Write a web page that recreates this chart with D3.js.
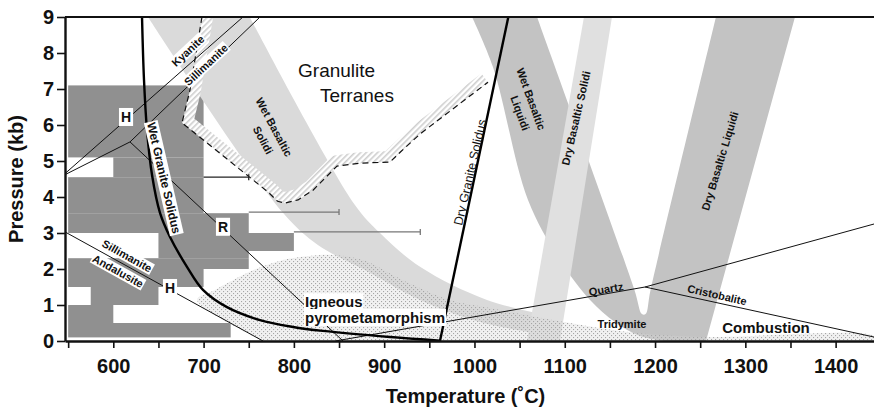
<!DOCTYPE html>
<html>
<head>
<meta charset="utf-8">
<title>P-T diagram</title>
<script src="https://cdn.jsdelivr.net/npm/d3@7/dist/d3.min.js"></script>
<style>
  body { margin: 0; background: #fff; }
  #chart svg { display: block; font-family: 'Liberation Sans', Arial, Helvetica, sans-serif; }
</style>
</head>
<body>
<div id="chart"></div>
<script>
// ticks
var tempTicks = [550, 600, 650, 700, 750, 800, 850, 900, 950, 1000, 1050, 1100, 1150, 1200, 1250, 1300, 1350, 1400];
var tempTickLabels = [600, 700, 800, 900, 1000, 1100, 1200, 1300, 1400];
var pressureTicks = [0, 1, 2, 3, 4, 5, 6, 7, 8, 9];

// dark blocks: [P low, P high, T from, T to]
var blockRows = [
  [5.1, 7.1, 550, 700],
  [4.55, 5.1, 600, 700],
  [3.55, 4.55, 550, 700],
  [3.0, 3.55, 550, 750],
  [2.5, 3.0, 650, 800],
  [2.3, 2.5, 650, 750],
  [2.0, 2.3, 550, 750],
  [1.5, 2.0, 550, 700],
  [1.0, 1.5, 575, 650],
  [0.5, 1.0, 550, 600],
  [0.1, 0.5, 550, 730]
];
// error bars: [P, T from, T to]
var blockErrorBars = [
  [4.55, 700, 750],
  [3.58, 750, 850],
  [3.03, 800, 940]
];

// curves, [T (C), P (kb)]
var wetGraniteSolidus = [[631.8, 9], [634.0, 7.25], [637.3, 5.86], [642.9, 4.61], [651.7, 3.56], [662.8, 2.89],
  [681.6, 2.06], [699.3, 1.42], [725.9, 0.94], [762.5, 0.58], [799.0, 0.39], [832.2, 0.28], [906.5, 0.11], [961.8, 0.01]];
var dryGraniteSolidus = [[961.8, 0], [1037.5, 9]];

var kyaniteSillimaniteH = [[546.5, 4.65], [743.6, 9]];
var andalusiteSillimaniteH = [[546.5, 3.03], [765.8, 0]];
var kyaniteAndalusiteR = [[546.5, 4.62], [618.5, 5.53]];
var kyaniteSillimaniteR = [[618.5, 5.53], [762.5, 9]];
var andalusiteSillimaniteR = [[618.5, 5.53], [854.4, 0]];

var quartzLine = [[846, 0], [1188.9, 1.5], [1442.5, 3.25]];
var cristobaliteLine = [[1188.9, 1.5], [1442.5, 0.11]];

var wetSolidiUpper = [[751.1, 9], [867, 3.8], [895.4, 3.0], [939.7, 2.06], [1013.9, 1.14], [1094.7, 0.64]];
var wetSolidiLower = [[638.4, 9], [787.9, 3.56], [826.6, 2.67], [878.7, 1.97], [939.7, 1.14], [1006.2, 0.53], [1094.7, 0.11]];

var wetLiquidiLeft = [[997.3, 9], [1020.5, 7.61], [1059.3, 3.92], [1094.7, 2.25], [1128, 1.14], [1155.6, 0.53], [1183.3, 0.14], [1211, 0]];
var dryLiquidiRight = [[1256.4, 0], [1355, 9]];
var liquidiNotch = [[1267.5, 9], [1195, 1.42], [1189.5, 0.75], [1185.5, 0.75], [1177.2, 1.42], [1069.3, 9]];

var drySolidi = [[1121.3, 9], [1152.3, 9], [1094.7, 0], [1058.2, 0]];

var pyrometamorphism = [[765.8, 0], [692.7, 1.14], [712.6, 1.42], [748.1, 1.89], [779.1, 2.19], [806.8, 2.33], [843.3, 2.39],
  [876.5, 2.25], [920.8, 1.69], [972.9, 1.14], [1017.2, 0.92], [1105.8, 0.5], [1180, 0.22], [1253.1, 0.11], [1442.5, 0.14], [1442.5, 0]];

var granuliteBoundary = [[698.2, 9], [684.9, 6.97], [676.1, 6.06], [771.3, 4.14], [782, 3.88], [790, 3.83], [804.6, 3.92],
  [821.2, 4.19], [847.8, 4.86], [873.2, 4.94], [906.4, 4.97], [918, 5.25], [939.7, 5.75], [1015, 7.19]];

// annotations at [T, P]
var labels = [
  {text: 'Kyanite', t: 682.7, p: 8.06, angle: -43, kind: 'small', box: true},
  {text: 'Sillimanite', t: 702.7, p: 7.67, angle: -43, kind: 'small', box: true},
  {text: 'H', t: 614.1, p: 6.22, kind: 'point', box: true},
  {text: 'Wet Granite Solidus', t: 656.1, p: 4.53, angle: 77, kind: 'solidus', box: true},
  {text: 'R', t: 721.5, p: 3.17, kind: 'point', box: true},
  {text: 'Sillimanite', t: 615.2, p: 2.36, angle: 29, kind: 'small', box: true},
  {text: 'Andalusite', t: 605.2, p: 1.94, angle: 29, kind: 'small', box: true},
  {text: 'H', t: 662.8, p: 1.47, kind: 'point', box: true},
  {text: 'Granulite', t: 804.6, p: 7.33, kind: 'region', anchor: 'start'},
  {text: 'Terranes', t: 828.9, p: 6.64, kind: 'region', anchor: 'start'},
  {text: 'Wet Basaltic', t: 778, p: 5.94, angle: 62, kind: 'small'},
  {text: 'Solidi', t: 765.8, p: 5.58, angle: 62, kind: 'small'},
  {text: 'Dry Granite Solidus', t: 995.1, p: 4.69, angle: -77, kind: 'plain'},
  {text: 'Wet Basaltic', t: 1062.6, p: 6.72, angle: 70, kind: 'small'},
  {text: 'Liquidi', t: 1050.4, p: 6.33, angle: 70, kind: 'small'},
  {text: 'Dry Basaltic Solidi', t: 1112.5, p: 6.19, angle: -77, kind: 'small'},
  {text: 'Dry Basaltic Liquidi', t: 1271.9, p: 5.0, angle: -73, kind: 'small'},
  {text: 'Igneous', t: 812.3, p: 0.94, kind: 'big', anchor: 'start', box: true},
  {text: 'pyrometamorphism', t: 812.3, p: 0.5, kind: 'big', anchor: 'start', box: true},
  {text: 'Quartz', t: 1145.7, p: 1.44, angle: -10, kind: 'tiny'},
  {text: 'Cristobalite', t: 1268.6, p: 1.28, angle: 13, kind: 'tiny'},
  {text: 'Tridymite', t: 1163.4, p: 0.47, kind: 'tiny'},
  {text: 'Combustion', t: 1322.9, p: 0.22, kind: 'big', anchor: 'middle'}
];

var PTChart = (function () {
  var margin = {top: 17, right: 0, bottom: 69, left: 65},
      width = 874 - margin.left - margin.right,
      height = 410 - margin.top - margin.bottom,
      x = d3.scaleLinear().domain([546.5, 1442.5]).range([0, width]),
      y = d3.scaleLinear().domain([0, 9]).range([height, 0]);

  var labelStyles = {
    small:   {size: 11, weight: 'bold'},
    tiny:    {size: 11, weight: 'bold'},
    point:   {size: 14, weight: 'bold'},
    solidus: {size: 12, weight: 'bold'},
    plain:   {size: 12.5, weight: 'normal'},
    region:  {size: 19, weight: 'normal'},
    big:     {size: 15, weight: 'bold'}
  };

  function draw(element) {
    var svg = d3.select(element).append('svg')
      .attr('width', 874)
      .attr('height', 410);

    _defineFills(svg);

    var g = svg.append('g')
      .attr('transform', 'translate(' + margin.left + ',' + margin.top + ')');

    var plot = g.append('g').attr('clip-path', 'url(#plot-clip)');

    _drawBlocks(plot);
    _drawBands(plot);
    _drawGranulite(plot);
    _drawLines(plot);
    _drawLabels(plot);
    _drawAxes(g);
  }

  function _defineFills(svg) {
    var defs = svg.append('defs');

    defs.append('clipPath').attr('id', 'plot-clip')
      .append('rect')
      .attr('width', width)
      .attr('height', height);

    defs.append('clipPath').attr('id', 'granulite-clip')
      .append('path')
      .attr('d', _line(granuliteBoundary.concat([[1037.5, 9]]), d3.curveLinear) + 'Z');

    var stipple = defs.append('pattern')
      .attr('id', 'stipple')
      .attr('patternUnits', 'userSpaceOnUse')
      .attr('width', 4)
      .attr('height', 4);
    stipple.append('rect').attr('width', 4).attr('height', 4).attr('fill', 'rgba(215,215,215,0.35)');
    stipple.append('rect').attr('width', 1.1).attr('height', 1.1).attr('fill', '#a6a6a6');
    stipple.append('rect').attr('x', 2).attr('y', 2).attr('width', 1.1).attr('height', 1.1).attr('fill', '#a6a6a6');

    var hatch = defs.append('pattern')
      .attr('id', 'hatch')
      .attr('patternUnits', 'userSpaceOnUse')
      .attr('width', 4)
      .attr('height', 4)
      .attr('patternTransform', 'rotate(45)');
    hatch.append('rect').attr('width', 4).attr('height', 4).attr('fill', '#fff');
    hatch.append('rect').attr('width', 1.6).attr('height', 4).attr('fill', '#cecece');
  }

  function _line(points, curve) {
    return d3.line()
      .x(function (d) { return x(d[0]); })
      .y(function (d) { return y(d[1]); })
      .curve(curve || d3.curveLinear)(points);
  }

  // joins several edges into one closed outline
  function _outline(edges) {
    return edges.map(function (edge, i) {
      var d = _line(edge.points, edge.curve);
      return i ? 'L' + d.slice(1) : d;
    }).join('') + 'Z';
  }

  function _drawBlocks(plot) {
    plot.append('g').selectAll('rect')
      .data(blockRows)
      .enter().append('rect')
      .attr('x', function (d) { return x(d[2]); })
      .attr('y', function (d) { return y(d[1]); })
      .attr('width', function (d) { return x(d[3]) - x(d[2]); })
      .attr('height', function (d) { return y(d[0]) - y(d[1]); })
      .attr('fill', '#909090');
  }

  function _drawBands(plot) {
    plot.append('path')
      .attr('d', _outline([
        {points: wetSolidiUpper, curve: d3.curveCatmullRom},
        {points: wetSolidiLower.slice().reverse(), curve: d3.curveCatmullRom}
      ]))
      .attr('fill', '#dadada');

    plot.append('path')
      .attr('d', _outline([
        {points: wetLiquidiLeft, curve: d3.curveCatmullRom},
        {points: dryLiquidiRight},
        {points: liquidiNotch, curve: d3.curveCatmullRom}
      ]))
      .attr('fill', '#c3c3c3');

    plot.append('path')
      .attr('d', _line(drySolidi) + 'Z')
      .attr('fill', '#e0e0e0');

    plot.append('path')
      .attr('d', _line(pyrometamorphism, d3.curveCatmullRom) + 'Z')
      .attr('fill', 'url(#stipple)');
  }

  function _drawGranulite(plot) {
    plot.append('g')
      .attr('clip-path', 'url(#granulite-clip)')
      .append('path')
      .attr('d', _line(granuliteBoundary))
      .attr('fill', 'none')
      .attr('stroke', 'url(#hatch)')
      .attr('stroke-width', 22)
      .attr('stroke-linejoin', 'round');

    plot.append('path')
      .attr('d', _line(granuliteBoundary))
      .attr('fill', 'none')
      .attr('stroke', '#111')
      .attr('stroke-width', 1.2)
      .attr('stroke-dasharray', '6,4');
  }

  function _drawLines(plot) {
    var bars = plot.append('g').selectAll('g')
      .data(blockErrorBars)
      .enter().append('g')
      .attr('stroke', function (d, i) { return i ? '#777' : '#222'; })
      .attr('stroke-width', 1.3);

    bars.append('line')
      .attr('x1', function (d) { return x(d[1]); })
      .attr('x2', function (d) { return x(d[2]); })
      .attr('y1', function (d) { return y(d[0]); })
      .attr('y2', function (d) { return y(d[0]); });

    bars.append('line')
      .attr('x1', function (d) { return x(d[2]); })
      .attr('x2', function (d) { return x(d[2]); })
      .attr('y1', function (d) { return y(d[0]) - 3; })
      .attr('y2', function (d) { return y(d[0]) + 3; });

    [kyaniteSillimaniteH, andalusiteSillimaniteH, kyaniteAndalusiteR, kyaniteSillimaniteR,
     andalusiteSillimaniteR, quartzLine, cristobaliteLine].forEach(function (pts) {
      plot.append('path')
        .attr('d', _line(pts))
        .attr('fill', 'none')
        .attr('stroke', '#111')
        .attr('stroke-width', 1);
    });

    plot.append('path')
      .attr('d', _line(wetGraniteSolidus, d3.curveCatmullRom))
      .attr('fill', 'none')
      .attr('stroke', '#000')
      .attr('stroke-width', 2.4);

    plot.append('path')
      .attr('d', _line(dryGraniteSolidus))
      .attr('fill', 'none')
      .attr('stroke', '#000')
      .attr('stroke-width', 2.4);
  }

  function _drawLabels(plot) {
    labels.forEach(function (d) {
      var style = labelStyles[d.kind],
          label = plot.append('g')
            .attr('transform', 'translate(' + x(d.t) + ',' + y(d.p) + ') rotate(' + (d.angle || 0) + ')');

      var text = label.append('text')
        .text(d.text)
        .attr('text-anchor', d.anchor || 'middle')
        .attr('dy', d.anchor ? 0 : '0.35em')
        .attr('fill', '#111')
        .style('font-size', style.size + 'px')
        .style('font-weight', style.weight);

      if (d.box) {
        var b = text.node().getBBox(),
            pad = d.kind === 'point' ? 2 : 1;
        label.insert('rect', 'text')
          .attr('x', b.x - pad)
          .attr('y', b.y - pad + 1)
          .attr('width', b.width + 2 * pad)
          .attr('height', b.height + 2 * pad - 2)
          .attr('fill', '#fff');
      }
    });
  }

  function _drawAxes(g) {
    var xAxis = g.append('g')
      .attr('transform', 'translate(0,' + height + ')')
      .call(d3.axisBottom(x)
        .tickValues(tempTicks)
        .tickSize(7)
        .tickSizeOuter(0)
        .tickPadding(11)
        .tickFormat(function (d) { return tempTickLabels.indexOf(d) >= 0 ? d : ''; }));

    var yAxis = g.append('g')
      .call(d3.axisLeft(y)
        .tickValues(pressureTicks)
        .tickSize(8)
        .tickSizeOuter(0)
        .tickPadding(3));

    [xAxis, yAxis].forEach(function (axis) {
      axis.select('.domain').attr('stroke', '#111').attr('stroke-width', 2.4);
      axis.selectAll('.tick line').attr('stroke', '#111').attr('stroke-width', 1.6);
      axis.selectAll('.tick text')
        .attr('fill', '#111')
        .style('font-family', "'Liberation Sans', Arial, sans-serif")
        .style('font-size', '20px')
        .style('font-weight', 'bold');
    });

    g.append('line')
      .attr('x1', 0)
      .attr('x2', width)
      .attr('stroke', '#111')
      .attr('stroke-width', 2);

    g.append('text')
      .attr('x', x(1000) - 9)
      .attr('y', height + 62)
      .attr('text-anchor', 'middle')
      .attr('fill', '#111')
      .style('font-size', '20px')
      .style('font-weight', 'bold')
      .text('Temperature (\u02daC)');

    g.append('text')
      .attr('transform', 'translate(' + (-42) + ',' + (height / 2) + ') rotate(-90)')
      .attr('text-anchor', 'middle')
      .attr('fill', '#111')
      .style('font-size', '20px')
      .style('font-weight', 'bold')
      .text('Pressure (kb)');
  }

  return {
    draw: draw
  };
})();

PTChart.draw(document.getElementById('chart'));
</script>
</body>
</html>
